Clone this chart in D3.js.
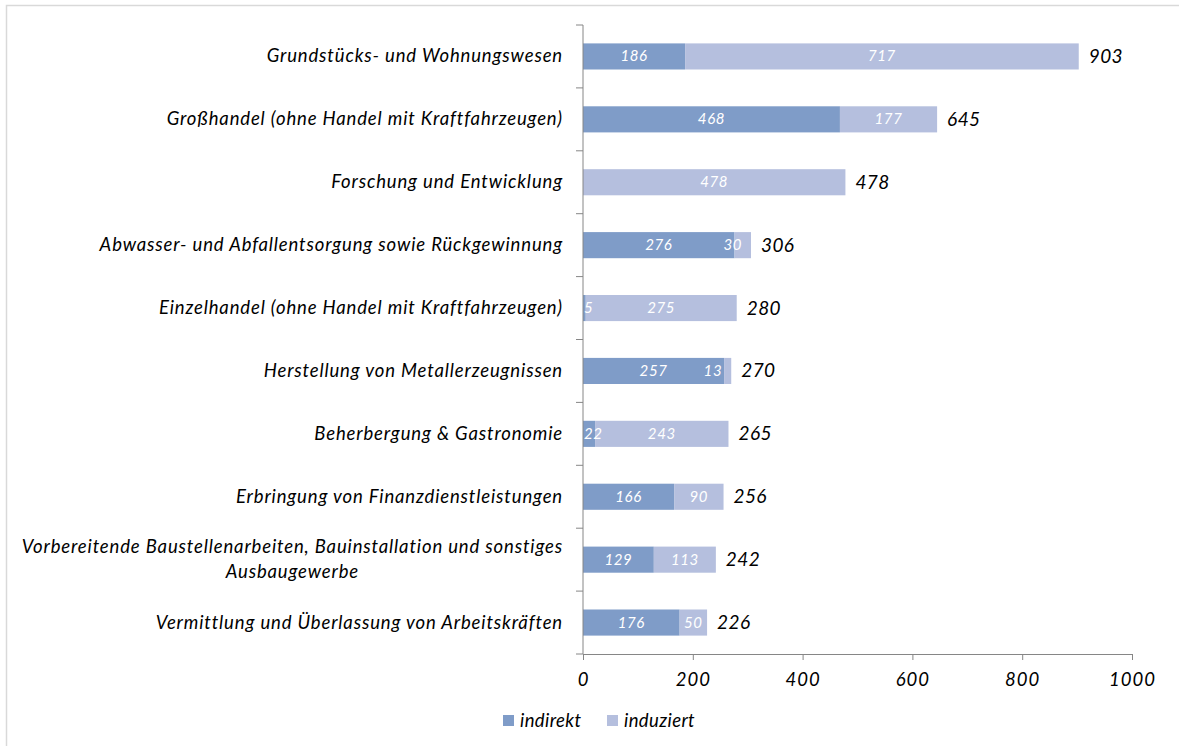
<!DOCTYPE html>
<html>
<head>
<meta charset="utf-8">
<script src="https://cdn.jsdelivr.net/npm/d3@7"></script>
<style>
  html, body { margin: 0; padding: 0; background: #fff; }
  svg { display: block; }
  text { font-family: Lato, "Open Sans", sans-serif; font-style: italic; }
</style>
</head>
<body>
<svg id="chart" width="1179" height="746"></svg>
<script>
// Branchen (oben nach unten)
const categories = [
  ["Grundstücks- und Wohnungswesen"],
  ["Großhandel (ohne Handel mit Kraftfahrzeugen)"],
  ["Forschung und Entwicklung"],
  ["Abwasser- und Abfallentsorgung sowie Rückgewinnung"],
  ["Einzelhandel (ohne Handel mit Kraftfahrzeugen)"],
  ["Herstellung von Metallerzeugnissen"],
  ["Beherbergung & Gastronomie"],
  ["Erbringung von Finanzdienstleistungen"],
  ["Vorbereitende Baustellenarbeiten, Bauinstallation und sonstiges", "Ausbaugewerbe"],
  ["Vermittlung und Überlassung von Arbeitskräften"]
];
const indirekt  = [186, 468, 0, 276, 5, 257, 22, 166, 129, 176];
const induziert = [717, 177, 478, 30, 275, 13, 243, 90, 113, 50];
const seriesNames = ["indirekt", "induziert"];
const seriesColors = ["#7f9cc8", "#b5bfde"];
const xTicks = [0, 200, 400, 600, 800, 1000];

const svg = d3.select("#chart");

// Rahmen
svg.append("rect")
  .attr("x", 6.5).attr("y", 5.5)
  .attr("width", 1200).attr("height", 800)
  .attr("fill", "none").attr("stroke", "#d9d9d9").attr("stroke-width", 1.5);

const plot = { left: 583, right: 1132, top: 25, bottom: 654 };

const x = d3.scaleLinear().domain([0, 1000]).range([plot.left, plot.right]);
const y = d3.scaleBand().domain(d3.range(categories.length))
  .range([plot.top, plot.bottom]).paddingInner(0.585).paddingOuter(0.2925);

const rows = categories.map((c, i) => ({ i, label: c, vals: [indirekt[i], induziert[i]] }));
const stack = d3.stack().keys([0, 1]).value((d, k) => d.vals[k])(rows);

// Balken
const g = svg.append("g");
stack.forEach((layer, k) => {
  g.selectAll(null).data(layer).enter().append("rect")
    .attr("x", d => x(d[0]))
    .attr("y", d => y(d.data.i))
    .attr("width", d => x(d[1]) - x(d[0]))
    .attr("height", y.bandwidth())
    .attr("fill", seriesColors[k]);
});

const measure = svg.append("text").attr("visibility", "hidden");
function textW(s, size, ls) {
  measure.attr("font-size", size).attr("letter-spacing", ls || 0).text(s);
  return measure.node().getComputedTextLength();
}

// Segmentbeschriftungen (weiß)
const inSize = 15, inLs = 0.6;
stack.forEach((layer, k) => {
  layer.forEach(d => {
    const v = d[1] - d[0];
    if (v <= 0) return;
    const s = String(v);
    const w = textW(s, inSize, inLs);
    const segW = x(d[1]) - x(d[0]);
    let cx = (x(d[0]) + x(d[1])) / 2;
    if (k > 0 && segW < w + 8) cx = x(d[1]) - 9 - w / 2;
    cx = Math.max(cx, plot.left + 1 + w / 2);
    svg.append("text")
      .attr("x", cx).attr("y", y(d.data.i) + y.bandwidth() / 2 + 5)
      .attr("text-anchor", "middle").attr("font-size", inSize).attr("letter-spacing", inLs)
      .attr("fill", "#ffffff").text(s);
  });
});

// Summen
rows.forEach(r => {
  const t = r.vals[0] + r.vals[1];
  svg.append("text")
    .attr("x", x(t) + 10).attr("y", y(r.i) + y.bandwidth() / 2 + 6.5)
    .attr("font-size", 19).attr("letter-spacing", 0.4).attr("fill", "#000").text(t);
});

// Kategorienachse
svg.append("line").attr("x1", plot.left).attr("x2", plot.left)
  .attr("y1", plot.top).attr("y2", plot.bottom).attr("stroke", "#868686").attr("stroke-width", 1);
d3.range(categories.length + 1).forEach(j => {
  const yy = plot.top + j * (plot.bottom - plot.top) / categories.length;
  svg.append("line").attr("x1", plot.left - 7).attr("x2", plot.left)
    .attr("y1", yy).attr("y2", yy).attr("stroke", "#868686");
});
const catSize = 18.5, catLs = 0.85;
rows.forEach(r => {
  const cy = y(r.i) + y.bandwidth() / 2;
  const n = r.label.length;
  const lh = 25.5;
  const t = svg.append("text").attr("font-size", catSize).attr("letter-spacing", catLs).attr("fill", "#000");
  if (n === 1) {
    t.attr("x", 563).attr("y", cy + 6).attr("text-anchor", "end").text(r.label[0]);
  } else {
    const w0 = textW(r.label[0], catSize, catLs);
    const mid = 563 - w0 / 2;
    r.label.forEach((line, li) => {
      t.append("tspan").attr("x", mid).attr("text-anchor", "middle")
        .attr("y", cy + 6 + (li - (n - 1) / 2) * lh).text(line);
    });
  }
});

// Werteachse
const xAxis = d3.axisBottom(x).tickValues(xTicks).tickSize(6).tickPadding(13).tickFormat(d3.format("d"));
const ax = svg.append("g").attr("transform", `translate(0,${plot.bottom})`).call(xAxis);
ax.select(".domain").attr("stroke", "#868686");
ax.selectAll(".tick line").attr("stroke", "#868686");
ax.selectAll(".tick text").attr("font-size", 18.5).attr("letter-spacing", 1).attr("fill", "#000")
  .attr("font-family", "Lato, sans-serif").attr("font-style", "italic");

// Legende
const leg = svg.append("g");
const legX = [503, 607];
seriesNames.forEach((nm, k) => {
  leg.append("rect").attr("x", legX[k]).attr("y", 715).attr("width", 11).attr("height", 11)
    .attr("fill", seriesColors[k]);
  leg.append("text").attr("x", legX[k] + 17).attr("y", 727)
    .attr("font-size", 18.5).attr("letter-spacing", 0.4).attr("fill", "#000").text(nm);
});
measure.remove();
</script>
</body>
</html>
